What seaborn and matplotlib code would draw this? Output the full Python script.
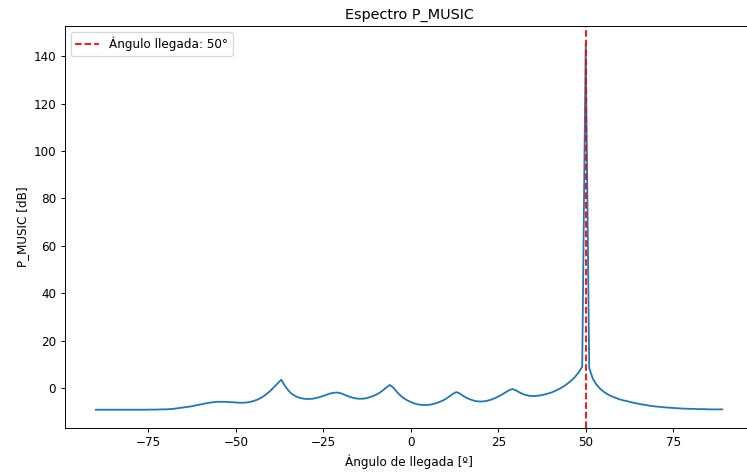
import matplotlib
matplotlib.use("Agg")
import matplotlib.pyplot as plt
import numpy as np
import pandas as pd
import seaborn as sns

# angle grid in degrees (-90 .. 89, 1 degree step)
angles = np.arange(-90, 90)

# P_MUSIC spectrum in dB
p_music = [
    -9.15, -9.15, -9.15, -9.15, -9.15, -9.15, -9.15, -9.15, -9.15, -9.15,   # -90..-81
    -9.15, -9.15, -9.15, -9.15, -9.15, -9.1, -9.1, -9.1, -9.05, -9.0,       # -80..-71
    -9.0, -8.9, -8.8, -8.6, -8.4, -8.2, -8.0, -7.8, -7.5, -7.2,             # -70..-61
    -6.9, -6.6, -6.3, -6.1, -5.9, -5.8, -5.8, -5.8, -5.9, -6.0,             # -60..-51
    -6.1, -6.2, -6.2, -6.1, -5.9, -5.5, -5.0, -4.3, -3.4, -2.3,             # -50..-41
    -1.0, 0.5, 2.0, 3.5, 1.0, -1.0, -2.5, -3.4, -4.0, -4.4,                 # -40..-31
    -4.6, -4.6, -4.5, -4.2, -3.8, -3.3, -2.8, -2.3, -2.0, -1.9,             # -30..-21
    -2.2, -2.8, -3.4, -3.9, -4.3, -4.5, -4.5, -4.4, -4.0, -3.5,             # -20..-11
    -2.9, -2.1, -1.0, 0.2, 1.3, 0.2, -1.6, -3.1, -4.3, -5.2,                # -10..-1
    -5.9, -6.5, -6.9, -7.1, -7.2, -7.1, -6.9, -6.5, -6.0, -5.4,             # 0..9
    -4.6, -3.6, -2.5, -1.7, -2.3, -3.3, -4.2, -4.8, -5.3, -5.6,             # 10..19
    -5.7, -5.6, -5.3, -4.9, -4.3, -3.6, -2.8, -1.9, -1.0, -0.4,             # 20..29
    -0.9, -1.8, -2.5, -3.0, -3.3, -3.4, -3.3, -3.1, -2.8, -2.4,             # 30..39
    -2.0, -1.4, -0.7, 0.1, 1.0, 2.1, 3.3, 4.8, 6.6, 9.0,                    # 40..49
    145.0, 8.5, 4.0, 1.6, -0.1, -1.4, -2.4, -3.2, -3.8, -4.4,               # 50..59
    -4.9, -5.3, -5.6, -6.0, -6.3, -6.6, -6.9, -7.1, -7.4, -7.6,             # 60..69
    -7.8, -7.9, -8.1, -8.2, -8.3, -8.4, -8.5, -8.6, -8.7, -8.7,             # 70..79
    -8.8, -8.8, -8.9, -8.9, -8.9, -9.0, -9.0, -9.0, -9.0, -9.0,             # 80..89
]

doa = 50  # estimated angle of arrival

df = pd.DataFrame({"angle": angles, "p_music": p_music})

dpi = 86.4
fig = plt.figure(figsize=(747 / dpi, 475 / dpi), dpi=dpi)
# right edge of the axes runs a little past the picture, as in the reference crop
ax = fig.add_axes([64.5 / 747, 1 - 428 / 475, 689 / 747, 402 / 475])

sns.lineplot(data=df, x="angle", y="p_music", color="#1f77b4", linewidth=1.5, ax=ax)
ax.axvline(doa, color="r", linestyle="--", linewidth=1.5, label=f"Ángulo llegada: {doa}°")

ax.set_title("Espectro P_MUSIC")
ax.set_xlabel("Ángulo de llegada [º]")
ax.set_ylabel("P_MUSIC [dB]")
ax.legend(loc="upper left")

fig.savefig("out.png", dpi=dpi)
